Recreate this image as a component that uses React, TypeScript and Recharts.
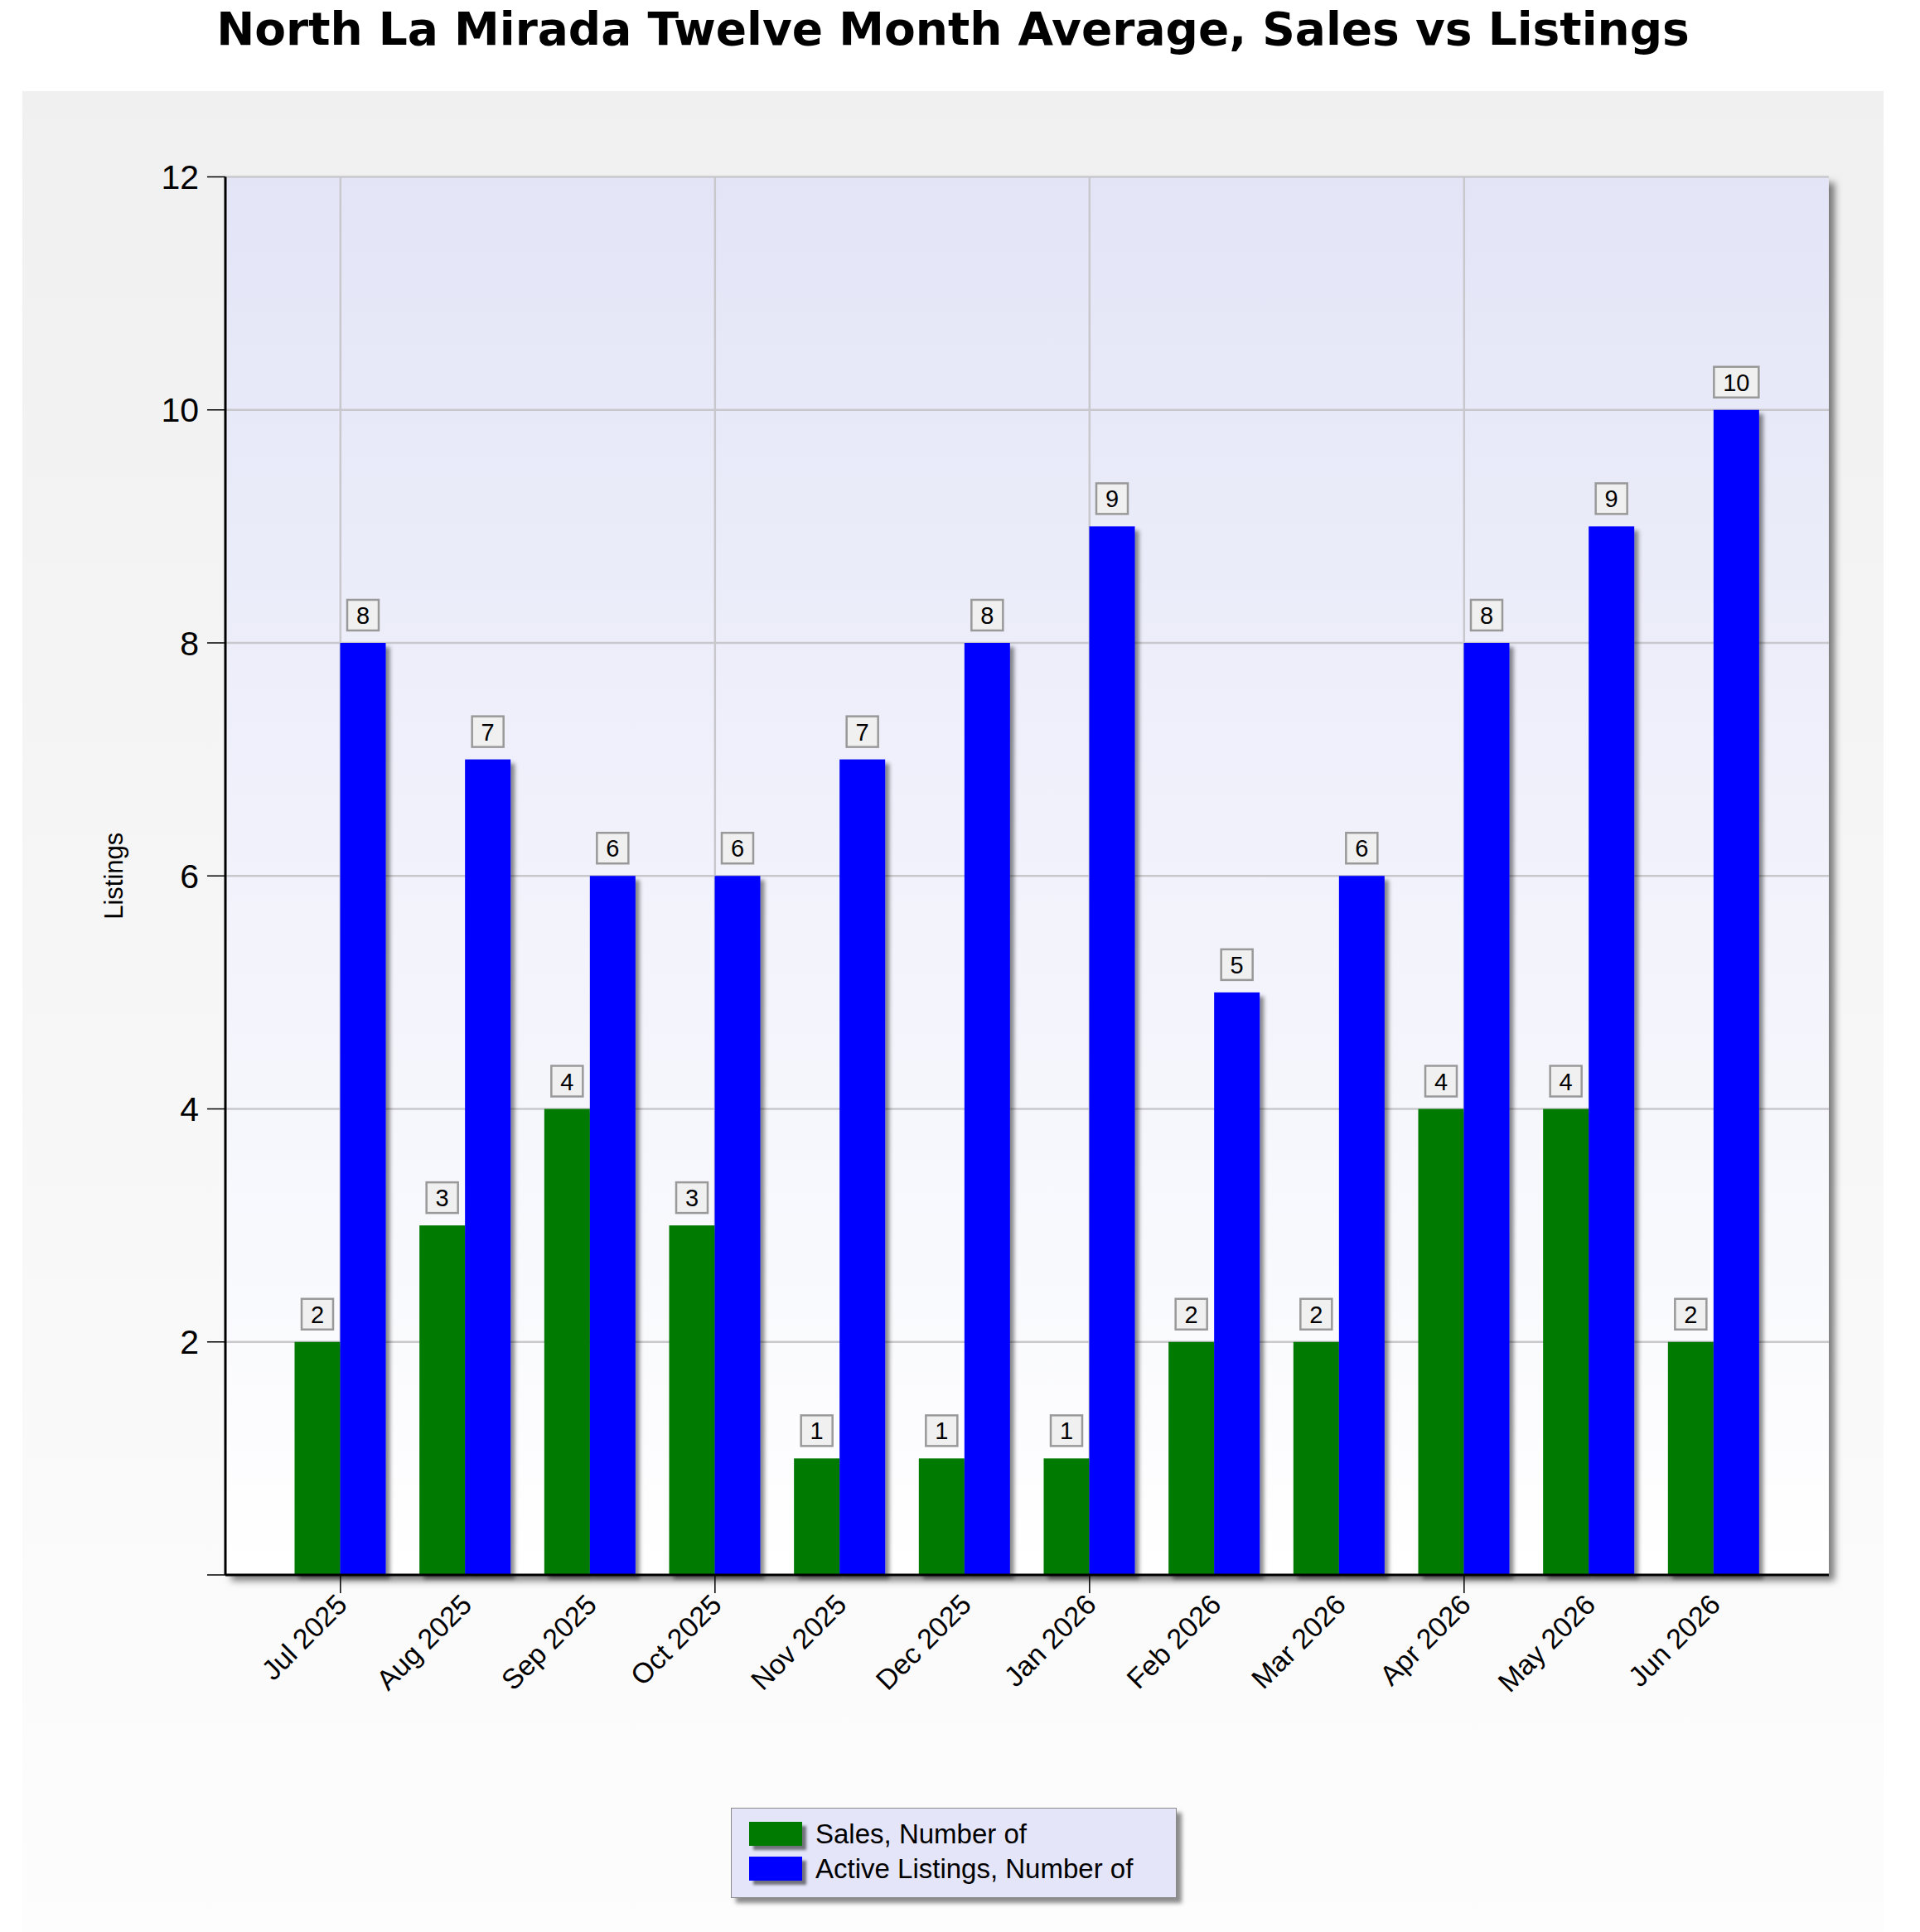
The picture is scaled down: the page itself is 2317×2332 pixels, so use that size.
import React from 'react';
import { BarChart, Bar, XAxis, YAxis, CartesianGrid, LabelList } from 'recharts';

const months = ['Jul 2025', 'Aug 2025', 'Sep 2025', 'Oct 2025', 'Nov 2025', 'Dec 2025', 'Jan 2026', 'Feb 2026', 'Mar 2026', 'Apr 2026', 'May 2026', 'Jun 2026'];
const sales = [2, 3, 4, 3, 1, 1, 1, 2, 2, 4, 4, 2];
const listings = [8, 7, 6, 6, 7, 8, 9, 5, 6, 8, 9, 10];
const yTicks = [0, 2, 4, 6, 8, 10, 12];
const gridMonths = ['Jul 2025', 'Oct 2025', 'Jan 2026', 'Apr 2026'];

const data = months.map((m, i) => ({ month: m, sales: sales[i], listings: listings[i] }));

const FONT = '"Liberation Sans", Arial, sans-serif';
const PAD = 63.5;

const BarShape = (props: any) => {
  const { x, y, width, height, fill } = props;
  if (!height || height <= 0) return null;
  return <rect x={x} y={y} width={width} height={height} fill={fill} filter="url(#barShadow)" />;
};

const BoxLabel = (props: any) => {
  const { x, y, width, value } = props;
  const cx = Number(x) + Number(width) / 2;
  const s = String(value);
  const w = s.length * 16 + 22;
  const h = 37;
  const bottom = Number(y) - 15;
  return (
    <g>
      <rect x={cx - w / 2} y={bottom - h} width={w} height={h} fill="#f0f0f0" stroke="#999999" strokeWidth={2.5} />
      <text x={cx} y={bottom - h / 2 + 10.5} textAnchor="middle" fontSize={29} fontFamily={FONT} fill="#000">{s}</text>
    </g>
  );
};

const XTick = (props: any) => {
  const { x, y, payload } = props;
  const showLine = gridMonths.includes(payload.value);
  return (
    <g>
      {showLine && <line x1={x} x2={x} y1={y - 22} y2={y} stroke="#000" strokeWidth={1.5} />}
      <text
        transform={`translate(${x + 10},${y + 16}) rotate(-45)`}
        textAnchor="end"
        fontSize={34}
        fontFamily={FONT}
        fill="#000"
      >
        {payload.value}
      </text>
    </g>
  );
};

const vGen = (args: any) => {
  try {
    const xAxis = args && args.xAxis;
    const s = xAxis && xAxis.scale;
    if (s) {
      let f: any = null;
      if (typeof s === 'function') f = (v: string) => s(v);
      else if (typeof s.map === 'function') f = (v: string) => s.map(v);
      else if (typeof s.apply === 'function') f = (v: string) => s.apply(v);
      let bw = 0;
      if (typeof s.bandwidth === 'function') bw = s.bandwidth();
      if (f) {
        const pts = gridMonths.map((m) => Number(f(m)) + bw / 2);
        if (pts.every((p) => Number.isFinite(p))) return pts;
      }
    }
    const off = args.offset || {};
    const band = (off.width - 2 * PAD) / months.length;
    return gridMonths.map((m) => off.left + PAD + band * (months.indexOf(m) + 0.5));
  } catch (e) {
    return [];
  }
};

const YLabel = (props: any) => {
  const vb = props.viewBox || {};
  const cy = vb.y != null && vb.height != null ? vb.y + vb.height / 2 : 1057;
  return (
    <text x={137} y={cy} transform={`rotate(-90, 137, ${cy})`} textAnchor="middle" dominantBaseline="central" fontSize={31} fontFamily={FONT} fill="#000">
      Listings
    </text>
  );
};

export default function App() {
  return (
    <div style={{ position: 'absolute', left: 0, top: 0, width: 2317, height: 2332, background: '#ffffff', overflow: 'hidden' }}>
      <style>{`.recharts-cartesian-grid-bg{filter:drop-shadow(7px 7px 4px rgba(0,0,0,0.5));}`}</style>
      <div style={{ position: 'absolute', left: 27, top: 110, width: 2246, height: 2240, background: 'linear-gradient(to bottom, #f0f0f0 0%, #fdfdfd 100%)' }} />
      <div style={{ position: 'absolute', left: 0, top: 8, width: 2300, textAlign: 'center', fontFamily: '"DejaVu Sans", Verdana, sans-serif', fontWeight: 'bold', fontSize: 55, lineHeight: '55px', color: '#000' }}>
        North La Mirada Twelve Month Average, Sales vs Listings
      </div>
      <div style={{ position: 'absolute', left: 0, top: 0 }}>
        <BarChart width={2317} height={2332} data={data} margin={{ top: 213.5, right: 110, left: 0, bottom: 0 }} barCategoryGap={20} barGap={0}>
          <defs>
            <linearGradient id="plotGrad" x1="0" y1="0" x2="0" y2="1">
              <stop offset="0%" stopColor="#e3e5f7" />
              <stop offset="100%" stopColor="#ffffff" />
            </linearGradient>
            <filter id="barShadow" x="-50%" y="-20%" width="200%" height="140%">
              <feDropShadow dx={5} dy={5} stdDeviation={2.5} floodColor="#000" floodOpacity={0.45} />
            </filter>
          </defs>
          <CartesianGrid fill="url(#plotGrad)" stroke="#c8c8cc" strokeWidth={2.5} verticalCoordinatesGenerator={vGen} />
          <XAxis
            dataKey="month"
            type="category"
            interval={0}
            height={431}
            padding={{ left: PAD, right: PAD }}
            axisLine={{ stroke: '#000', strokeWidth: 3 }}
            tickLine={false}
            tickSize={22}
            tickMargin={0}
            tick={<XTick />}
          />
          <YAxis
            type="number"
            domain={[0, 12]}
            ticks={yTicks}
            width={272}
            axisLine={{ stroke: '#000', strokeWidth: 3 }}
            tickLine={{ stroke: '#000', strokeWidth: 1.5 }}
            tickSize={22}
            tickMargin={10}
            tick={{ fontSize: 41, fontFamily: FONT, fill: '#000' }}
            tickFormatter={(v: number) => (v === 0 ? '' : String(v))}
            label={<YLabel />}
          />
          <Bar dataKey="sales" fill="#007a00" shape={<BarShape />} isAnimationActive={false}>
            <LabelList dataKey="sales" content={<BoxLabel />} />
          </Bar>
          <Bar dataKey="listings" fill="#0000ff" shape={<BarShape />} isAnimationActive={false}>
            <LabelList dataKey="listings" content={<BoxLabel />} />
          </Bar>
        </BarChart>
      </div>
      <div style={{ position: 'absolute', left: 882, top: 2182, width: 538, height: 109, boxSizing: 'border-box', background: '#e4e5f8', border: '1.5px solid #8a8a8a', boxShadow: '6px 6px 5px rgba(0,0,0,0.45)', fontFamily: FONT, fontSize: 33, color: '#000' }}>
        <div style={{ position: 'absolute', left: 21, top: 16, width: 64, height: 29, background: '#007a00', boxShadow: '5px 5px 3px rgba(0,0,0,0.5)' }} />
        <div style={{ position: 'absolute', left: 101, top: 14, lineHeight: '33px', whiteSpace: 'nowrap' }}>Sales, Number of</div>
        <div style={{ position: 'absolute', left: 21, top: 58, width: 64, height: 29, background: '#0000ff', boxShadow: '5px 5px 3px rgba(0,0,0,0.5)' }} />
        <div style={{ position: 'absolute', left: 101, top: 56, lineHeight: '33px', whiteSpace: 'nowrap' }}>Active Listings, Number of</div>
      </div>
    </div>
  );
}
